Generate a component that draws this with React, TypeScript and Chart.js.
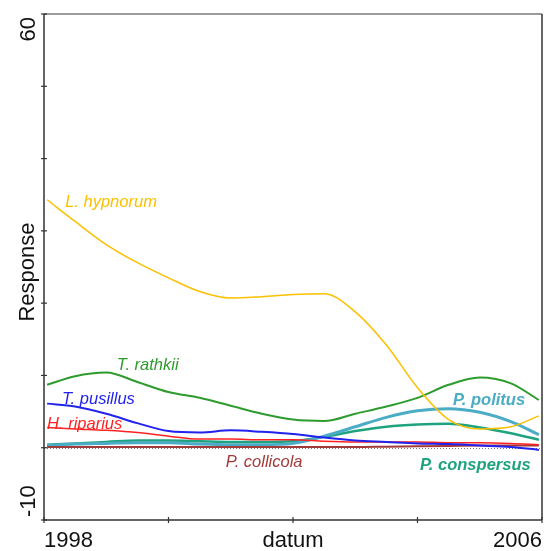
import React, { useEffect, useRef } from "react";
import { Chart, registerables } from "chart.js";

Chart.register(...registerables);

// ---- data ----
const years = [
  1998.05, 1998.5, 1999, 1999.5, 2000, 2000.5, 2001, 2001.5, 2002,
  2002.5, 2003, 2003.5, 2004, 2004.5, 2005, 2005.5, 2005.95,
];

const lHypnorum = [34.3, 31.3, 28.1, 25.6, 23.5, 21.6, 20.7, 20.9, 21.2, 21.3, 18.8, 14.2, 8.3, 3.9, 2.6, 2.9, 4.4];
const tRathkii = [8.7, 9.9, 10.4, 9.1, 7.7, 6.9, 5.8, 4.7, 3.9, 3.7, 4.7, 5.7, 6.9, 8.7, 9.7, 8.9, 6.6];
const tPusillus = [6.1, 5.7, 4.7, 3.4, 2.3, 2.1, 2.4, 2.2, 1.9, 1.4, 1.0, 0.8, 0.6, 0.5, 0.3, 0.1, -0.3];
const hRiparius = [2.8, 2.6, 2.4, 2.1, 1.6, 1.2, 1.2, 1.1, 1.1, 0.9, 0.8, 0.8, 0.8, 0.7, 0.7, 0.6, 0.4];
const pPolitus = [0.3, 0.5, 0.6, 0.7, 0.7, 0.5, 0.4, 0.4, 0.6, 1.6, 2.9, 4.2, 5.1, 5.4, 4.9, 3.6, 1.8];
const pConspersus = [0.4, 0.6, 0.8, 1.0, 1.0, 0.9, 0.8, 0.8, 0.9, 1.5, 2.3, 2.9, 3.2, 3.3, 2.8, 2.0, 1.1];
const pCollicola = [0.1, 0.1, 0.1, 0.1, 0.1, 0.1, 0.1, 0.1, 0.1, 0.1, 0.1, 0.15, 0.2, 0.25, 0.3, 0.3, 0.3];

const seriesNames = ["L. hypnorum", "T. rathkii", "T. pusillus", "H. riparius", "P. collicola", "P. politus", "P. conspersus"];
const seriesValues = [lHypnorum, tRathkii, tPusillus, hRiparius, pCollicola, pPolitus, pConspersus];

const xTickValues = [1998, 2000, 2002, 2004, 2006];
const xTickLabels = ["1998", "2006"];
const xTitle = "datum";
const yTickValues = [-10, 0, 10, 20, 30, 40, 50, 60];
const yTickLabels = ["-10", "60"];
const yTitle = "Response";

// ---- styles ----
const colors = ["#FCC000", "#2E9B2E", "#2222EE", "#FF2222", "#A33A3A", "#4BACC6", "#1FA37F"];
const widths = [1.5, 2, 2, 1.5, 2, 3, 2.5];
const bold = [false, false, false, false, false, true, true];
// label anchors (data coords: year, value at baseline)
const labelPos: [number, number][] = [
  [1998.34, 33.3],
  [1999.17, 10.8],
  [1998.29, 6.05],
  [1998.05, 2.6],
  [2000.92, -2.7],
  [2004.57, 5.9],
  [2004.04, -3.1],
];

const FONT = '"Liberation Sans", Arial, sans-serif';

const decorPlugin = {
  id: "decor",
  beforeDatasetsDraw(chart: any) {
    const { ctx, chartArea: a, scales } = chart;
    const y0 = Math.round(scales.y.getPixelForValue(0)) + 0.5;
    ctx.save();
    ctx.strokeStyle = "#777";
    ctx.lineWidth = 1;
    ctx.setLineDash([1, 2]);
    ctx.beginPath();
    ctx.moveTo(a.left, y0);
    ctx.lineTo(a.right, y0);
    ctx.stroke();
    ctx.restore();
  },
  afterDraw(chart: any) {
    const { ctx, chartArea: a, scales } = chart;
    const xs = scales.x;
    const ys = scales.y;
    ctx.save();
    // box
    ctx.lineWidth = 1.5;
    ctx.strokeStyle = "#7a7a7a";
    ctx.beginPath();
    ctx.moveTo(a.left, a.top);
    ctx.lineTo(a.right, a.top);
    ctx.stroke();
    ctx.strokeStyle = "#333";
    ctx.beginPath();
    ctx.moveTo(a.right, a.top);
    ctx.lineTo(a.right, a.bottom);
    ctx.stroke();
    ctx.beginPath();
    ctx.moveTo(a.left, a.top);
    ctx.lineTo(a.left, a.bottom);
    ctx.lineTo(a.right, a.bottom);
    ctx.stroke();
    // ticks
    ctx.lineWidth = 1.2;
    yTickValues.forEach((v) => {
      const p = ys.getPixelForValue(v);
      ctx.beginPath();
      ctx.moveTo(a.left - 3, p);
      ctx.lineTo(a.left + 3, p);
      ctx.stroke();
    });
    xTickValues.forEach((v) => {
      const p = xs.getPixelForValue(v);
      ctx.beginPath();
      ctx.moveTo(p, a.bottom - 3);
      ctx.lineTo(p, a.bottom + 3);
      ctx.stroke();
    });
    // axis labels
    ctx.fillStyle = "#111";
    ctx.font = `22px ${FONT}`;
    ctx.textBaseline = "alphabetic";
    const by = a.bottom + 27;
    ctx.textAlign = "left";
    ctx.fillText(xTickLabels[0], a.left, by);
    ctx.textAlign = "right";
    ctx.fillText(xTickLabels[1], a.right, by);
    ctx.textAlign = "center";
    ctx.fillText(xTitle, (a.left + a.right) / 2, by);

    const rx = a.left - 9;
    ctx.save();
    ctx.translate(rx, a.top + 3);
    ctx.rotate(-Math.PI / 2);
    ctx.textAlign = "right";
    ctx.fillText(yTickLabels[1], 0, 0);
    ctx.restore();
    ctx.save();
    ctx.translate(rx, a.bottom - 3);
    ctx.rotate(-Math.PI / 2);
    ctx.textAlign = "left";
    ctx.fillText(yTickLabels[0], 0, 0);
    ctx.restore();
    ctx.save();
    ctx.translate(rx - 1, (a.top + a.bottom) / 2 + 5);
    ctx.rotate(-Math.PI / 2);
    ctx.textAlign = "center";
    ctx.fillText(yTitle, 0, 0);
    ctx.restore();

    // series labels
    ctx.textAlign = "left";
    seriesNames.forEach((name, i) => {
      ctx.fillStyle = colors[i];
      ctx.font = `${bold[i] ? "italic bold" : "italic"} 16.5px ${FONT}`;
      const [lx, ly] = labelPos[i];
      ctx.fillText(name, xs.getPixelForValue(lx), ys.getPixelForValue(ly));
    });
    ctx.restore();
  },
};

export default function App() {
  const ref = useRef<HTMLCanvasElement | null>(null);
  useEffect(() => {
    document.body.style.margin = "0";
    const canvas = ref.current;
    if (!canvas) return;
    const chart = new Chart(canvas, {
      type: "line",
      data: {
        datasets: seriesNames.map((name, i) => ({
          label: name,
          data: years.map((x, j) => ({ x, y: seriesValues[i][j] })),
          borderColor: colors[i],
          borderWidth: widths[i],
          pointRadius: 0,
          tension: 0.4,
          cubicInterpolationMode: "monotone" as const,
          fill: false,
        })),
      },
      options: {
        responsive: false,
        animation: false,
        devicePixelRatio: 1,
        layout: { padding: { left: 44, right: 7, top: 14, bottom: 31 } },
        plugins: { legend: { display: false }, tooltip: { enabled: false } },
        scales: {
          x: { type: "linear", min: 1998, max: 2006, display: false },
          y: { type: "linear", min: -10, max: 60, display: false },
        },
      },
      plugins: [decorPlugin],
    });
    return () => chart.destroy();
  }, []);
  return (
    <div style={{ position: "absolute", left: 0, top: 0, width: 549, height: 551, background: "#fff" }}>
      <canvas ref={ref} width={549} height={551} />
    </div>
  );
}
